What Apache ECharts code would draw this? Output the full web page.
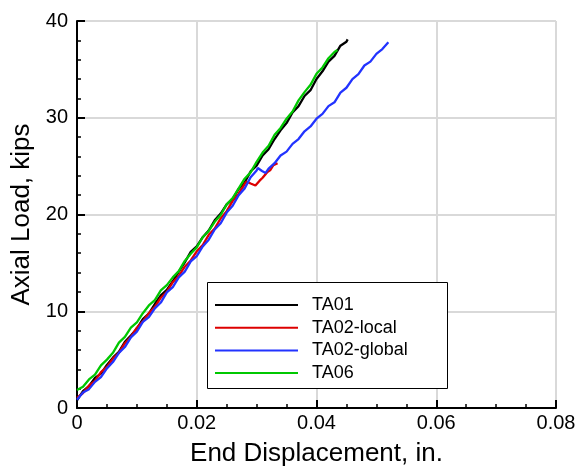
<!DOCTYPE html>
<html>
<head>
<meta charset="utf-8">
<script src="https://cdn.jsdelivr.net/npm/echarts@6/dist/echarts.min.js"></script>
<style>
  html, body { margin: 0; padding: 0; background: #fff; }
  #chart { width: 580px; height: 472px; }
</style>
</head>
<body>
<div id="chart"></div>
<script>
// Axial load vs. end displacement for the four tests
const seriesNames = ['TA01', 'TA02-local', 'TA02-global', 'TA06'];
const xTicks = [0, 0.02, 0.04, 0.06, 0.08];
const yTicks = [0, 10, 20, 30, 40];

// [displacement (in.), load (kips)]
const ta01 = [
  [0.000,0.8],[0.001,1.75],[0.002,2.25],[0.003,3.1],[0.004,3.55],[0.005,4.45],[0.006,5.2],
  [0.007,5.8],[0.008,6.85],[0.009,7.5],[0.010,8.2],[0.011,9.2],[0.012,9.75],[0.013,10.75],
  [0.014,11.65],[0.015,12.2],[0.016,13.1],[0.017,14.1],[0.018,15.05],[0.019,16.15],[0.020,16.7],
  [0.021,17.65],[0.022,18.35],[0.023,19.4],[0.024,20.1],[0.025,21.05],[0.026,21.6],[0.027,22.65],
  [0.028,23.3],[0.029,24.45],[0.030,25.05],[0.031,26.1],[0.032,26.75],[0.033,27.8],[0.034,28.7],
  [0.035,29.45],[0.036,30.55],[0.037,31.2],[0.038,32.25],[0.039,32.85],[0.040,34.0],[0.041,34.8],
  [0.042,35.8],[0.043,36.4],[0.044,37.45],[0.045,37.85],[0.0452,38.1]
];
const ta02Local = [
  [0.000,1.05],[0.001,1.55],[0.002,2.3],[0.003,2.8],[0.004,3.7],[0.005,4.25],[0.006,5.1],
  [0.007,5.7],[0.008,6.7],[0.009,7.35],[0.010,8.3],[0.011,8.95],[0.012,9.8],[0.013,10.45],
  [0.014,11.4],[0.015,12.0],[0.016,13.0],[0.017,13.65],[0.018,14.6],[0.019,15.25],[0.020,16.2],
  [0.021,16.85],[0.022,17.9],[0.023,18.55],[0.024,19.6],[0.025,20.35],[0.026,21.4],[0.027,22.15],
  [0.028,23.15],[0.0283,23.4],[0.0290,23.2],[0.0298,23.0],[0.0305,23.5],[0.0310,23.8],
  [0.0318,24.4],[0.0323,24.6],[0.0328,25.1],[0.0335,25.3]
];
const ta02Global = [
  [0.000,0.85],[0.001,1.6],[0.002,1.95],[0.003,2.7],[0.004,3.2],[0.005,4.1],[0.006,4.75],
  [0.007,5.7],[0.008,6.3],[0.009,7.3],[0.010,7.9],[0.011,8.9],[0.012,9.4],[0.013,10.3],
  [0.014,10.9],[0.015,11.95],[0.016,12.5],[0.017,13.5],[0.018,14.1],[0.019,15.15],[0.020,15.7],
  [0.021,16.7],[0.022,17.4],[0.023,18.45],[0.024,19.1],[0.025,20.2],[0.026,20.9],[0.027,22.0],
  [0.028,22.7],[0.029,23.85],[0.030,24.55],[0.0302,24.8],[0.0309,24.5],[0.0315,24.3],
  [0.032,24.75],[0.033,25.3],[0.034,26.1],[0.035,26.5],[0.036,27.3],[0.037,27.8],[0.038,28.6],
  [0.039,29.1],[0.040,29.9],[0.041,30.4],[0.042,31.2],[0.043,31.6],[0.044,32.6],[0.045,33.1],
  [0.046,34.0],[0.047,34.5],[0.048,35.4],[0.049,35.8],[0.050,36.6],[0.051,37.1],[0.052,37.8]
];
const ta06 = [
  [0.000,1.85],[0.001,2.2],[0.002,2.95],[0.003,3.45],[0.004,4.4],[0.005,5.0],[0.006,5.7],
  [0.007,6.75],[0.008,7.35],[0.009,8.3],[0.010,8.85],[0.011,9.8],[0.012,10.6],[0.013,11.15],
  [0.014,12.15],[0.015,12.7],[0.016,13.5],[0.017,14.15],[0.018,15.2],[0.019,15.95],[0.020,16.6],
  [0.021,17.65],[0.022,18.3],[0.023,19.25],[0.024,19.95],[0.025,21.05],[0.026,21.7],[0.027,22.7],
  [0.028,23.7],[0.029,24.35],[0.030,25.45],[0.031,26.4],[0.032,27.1],[0.033,28.25],[0.034,28.95],
  [0.035,29.9],[0.036,30.65],[0.037,31.8],[0.038,32.65],[0.039,33.4],[0.040,34.55],[0.041,35.2],
  [0.042,36.15],[0.043,36.8],[0.0435,37.0]
];

const seriesData = [ta01, ta02Local, ta02Global, ta06];
const colors = ['#000000', '#dd0000', '#2233ff', '#00c800'];
const FONT = 'Liberation Sans, Arial, Helvetica, sans-serif';

const chart = echarts.init(document.getElementById('chart'), null, { renderer: 'canvas' });

function axisCommon(name, nameGap, ticks) {
  return {
    type: 'value',
    name: name,
    nameLocation: 'middle',
    nameGap: nameGap,
    nameTextStyle: { fontFamily: FONT, fontSize: 26, color: '#000' },
    min: ticks[0],
    max: ticks[ticks.length - 1],
    interval: ticks[1] - ticks[0],
    axisLine: { show: true, onZero: false, lineStyle: { color: '#000', width: 2 } },
    axisTick: { show: true, inside: true, length: 8, lineStyle: { color: '#000', width: 2 } },
    minorTick: { show: true, length: 4, lineStyle: { color: '#000', width: 1.5 } },
    splitLine: { show: true, lineStyle: { color: '#d9d9d9', width: 2 } },
    axisLabel: { fontFamily: FONT, fontSize: 20, color: '#000' }
  };
}

const xAxis = axisCommon('End Displacement, in.', 33, xTicks);
xAxis.minorTick.splitNumber = 4;
xAxis.axisLabel.margin = 5;
xAxis.axisLabel.formatter = v => (Math.abs(v) < 1e-9 ? '0' : v.toFixed(2));

const yAxis = axisCommon('Axial Load, kips', 40, yTicks);
yAxis.minorTick.splitNumber = 5;
yAxis.axisLabel.margin = 9;
yAxis.axisLabel.formatter = v => String(Math.round(v));

chart.setOption({
  animation: false,
  backgroundColor: '#fff',
  grid: { left: 77, right: 24, top: 21, bottom: 64, containLabel: false },
  xAxis: xAxis,
  yAxis: yAxis,
  graphic: [{
    type: 'rect',
    z: 10,
    shape: { x: 207.5, y: 282.5, width: 240, height: 106 },
    style: { fill: '#fff', stroke: '#000', lineWidth: 1 }
  }],
  legend: {
    z: 11,
    orient: 'vertical',
    left: 215,
    top: 296,
    padding: 0,
    itemWidth: 83,
    itemHeight: 14,
    itemGap: 4.7,
    icon: 'path://M0,0 L83,0 L83,2 L0,2 Z',
    data: seriesNames,
    textStyle: { fontFamily: FONT, fontSize: 18, lineHeight: 18, color: '#000', padding: [0, 0, 0, 9] }
  },
  series: seriesNames.map((name, i) => ({
    name: name,
    type: 'line',
    data: seriesData[i],
    symbol: 'none',
    showSymbol: false,
    smooth: false,
    color: colors[i],
    lineStyle: { color: colors[i], width: 2.3 },
    z: 2 + i
  }))
});
</script>
</body>
</html>
